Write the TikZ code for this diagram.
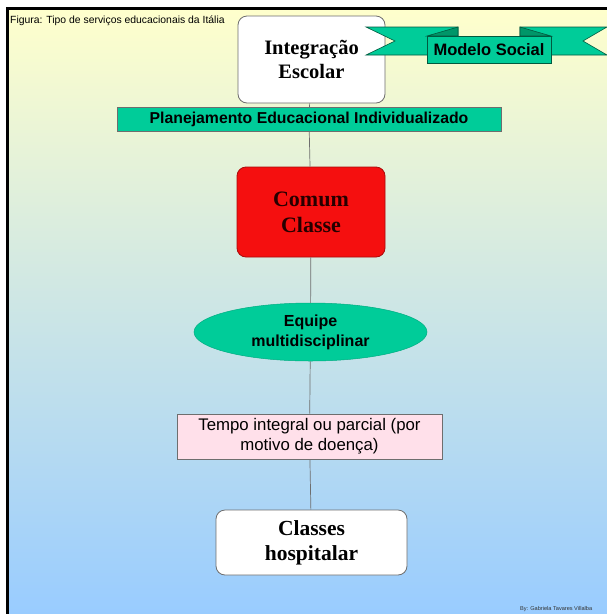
\documentclass[tikz,border=0pt]{standalone}
\usepackage{fontspec}
\setmainfont{Liberation Serif}
\setsansfont{Liberation Sans}
\usetikzlibrary{shapes.geometric}
\definecolor{bgtop}{RGB}{255,255,204}
\definecolor{bgbot}{RGB}{153,204,255}
\definecolor{tgreen}{RGB}{0,204,153}
\definecolor{dgreen}{RGB}{0,150,105}
\definecolor{tred}{RGB}{245,15,15}
\definecolor{tpink}{RGB}{255,224,234}
\definecolor{edgegray}{RGB}{110,110,110}
\tikzset{
  roundbox/.style={draw=edgegray, line width=0.8pt, rounded corners=9pt, fill=white, inner sep=0pt, align=center, font=\bfseries\fontsize{20.5}{24}\selectfont},
  greenbar/.style={draw=edgegray, line width=0.6pt, fill=tgreen, inner sep=0pt, font=\sffamily\bfseries\fontsize{15.8}{18}\selectfont},
  link/.style={draw=edgegray, line width=0.7pt},
  ribbon/.style={fill=tgreen, draw=dgreen!60!black, line width=0.6pt, line join=miter}
}
\begin{document}
\begin{tikzpicture}[x=1pt,y=-1pt]
\useasboundingbox (0,0) rectangle (607,614);
\fill[white] (0,0) rectangle (607,614);
\shade[top color=bgtop, bottom color=bgbot] (7,8) rectangle (607,614);
\draw[line width=3pt, line cap=rect] (7,8) -- (607,8);
\draw[line width=3pt] (7,8) -- (7,614);

\node[anchor=west, font=\sffamily\fontsize{10.4}{12}\selectfont, inner sep=0pt] (cap) at (10,21) {Figura: Tipo de serviços educacionais da Itália};

% nodes
\node[roundbox, minimum width=147pt, minimum height=87pt] (integ) at (311.5,59.5) {Integração\\Escolar};
\node[greenbar, minimum width=384pt, minimum height=24pt] (plan) at (309,119.5) {Planejamento Educacional Individualizado};
\node[roundbox, fill=tred, draw=tred!70!black, font=\bfseries\fontsize{22}{26}\selectfont, text=black!85!red, minimum width=148pt, minimum height=90pt] (comum) at (311,212) {Comum\\Classe};
\node[ellipse, fill=tgreen, draw=tgreen!85!black, line width=0.5pt, inner sep=0pt, minimum width=233pt, minimum height=58pt, align=center, font=\sffamily\bfseries\fontsize{16}{20}\selectfont] (equipe) at (310.5,332) {Equipe\\multidisciplinar};
\node[draw=edgegray, line width=0.7pt, fill=tpink, minimum width=265pt, minimum height=45pt, inner sep=0pt, align=center, font=\sffamily\fontsize{16.8}{20}\selectfont] (tempo) at (309.5,436.5) {Tempo integral ou parcial (por\\motivo de doença)};
\node[roundbox, font=\bfseries\fontsize{21.5}{25}\selectfont, minimum width=191pt, minimum height=65pt] (classes) at (311.5,542.5) {Classes\\hospitalar};

% connectors
\path[link] (integ) -- (plan);
\path[link] (plan) -- (comum);
\path[link] (comum) -- (equipe);
\path[link] (equipe) -- (tempo);
\path[link] (tempo) -- (classes);

% ribbon
\filldraw[ribbon] (366,27) -- (458,27) -- (458,55) -- (366,55) -- (395,41) -- cycle;
\filldraw[ribbon] (607,27) -- (520,27) -- (520,55) -- (607,55) -- (583,41) -- cycle;
\filldraw[ribbon, fill=dgreen] (427,36) -- (458,27) -- (458,36) -- cycle;
\filldraw[ribbon, fill=dgreen] (551,36) -- (520,27) -- (520,36) -- cycle;
\node[ribbon, draw, minimum width=124pt, minimum height=27pt, inner sep=0pt, font=\sffamily\bfseries\fontsize{16.5}{19}\selectfont] (modelo) at (489,49.5) {Modelo Social};

\node[anchor=west, inner sep=0pt, font=\sffamily\fontsize{5.6}{6}\selectfont, text=black!80] (by) at (520,609) {By: Gabriela Tavares Villalba};
\end{tikzpicture}
\end{document}
